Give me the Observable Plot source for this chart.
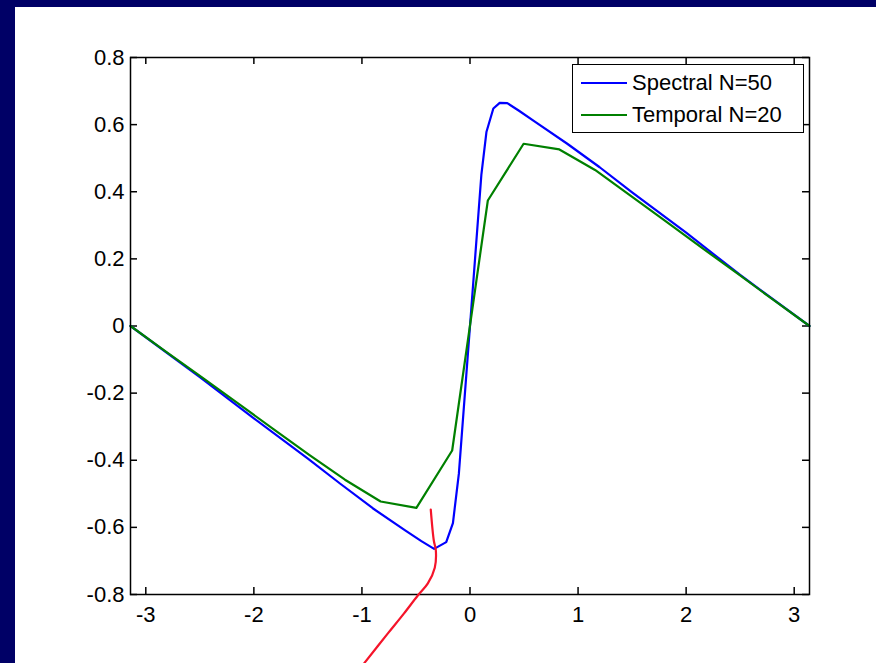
<!DOCTYPE html>
<html>
<head>
<meta charset="utf-8">
<script src="https://cdn.jsdelivr.net/npm/d3@7"></script>
<script src="https://cdn.jsdelivr.net/npm/@observablehq/plot@0.6"></script>
<style>
  html, body { margin: 0; padding: 0; background: #000066; width: 876px; height: 663px; overflow: hidden; }
  #panel { position: absolute; left: 15px; top: 7px; width: 861px; height: 656px; background: #ffffff; }
  #legend {
    position: absolute; left: 557px; top: 57px; width: 230px; height: 67px;
    border: 1.5px solid #000; background: #fff;
    font-family: "Liberation Sans", Arial, sans-serif; font-size: 22px; color: #000;
  }
  .row { position: absolute; left: 0; height: 30px; display: flex; align-items: center; }
  .row svg { margin-left: 8px; margin-right: 5px; }
</style>
</head>
<body>
<div id="panel"></div>
<script>
// Spectral solution, N = 50
const spectralX = [-3.1416, -2.5, -2.0, -1.5, -1.2, -0.9, -0.6, -0.45, -0.332, -0.22, -0.158, -0.103, 0,
                   0.105, 0.152, 0.216, 0.275, 0.345, 0.45, 0.6, 0.9, 1.2, 1.5, 2.0, 2.5, 3.1416];
const spectralY = [0, -0.152, -0.275, -0.395, -0.47, -0.543, -0.609, -0.641, -0.664, -0.644, -0.587, -0.44, 0,
                   0.45, 0.578, 0.648, 0.665, 0.664, 0.642, 0.609, 0.543, 0.473, 0.398, 0.278, 0.152, 0];

// Temporal solution, N = 20
const temporalX = [-3.1416, -2.811, -2.480, -2.150, -1.819, -1.488, -1.157, -0.827, -0.496, -0.165,
                   0.165, 0.496, 0.827, 1.157, 1.488, 1.819, 2.150, 2.480, 2.811, 3.1416];
const temporalY = [0, -0.077, -0.153, -0.230, -0.307, -0.384, -0.458, -0.523, -0.542, -0.371,
                   0.374, 0.543, 0.526, 0.465, 0.388, 0.310, 0.232, 0.155, 0.077, 0];

// Hand-drawn red annotation stroke
const annotX = [-0.363, -0.335, -0.316, -0.326, -0.390, -0.483, -0.612, -0.760, -0.982];
const annotY = [-0.547, -0.639, -0.669, -0.720, -0.767, -0.803, -0.857, -0.916, -1.006];

const xTicks = [-3, -2, -1, 0, 1, 2, 3];
const yTicks = [-0.8, -0.6, -0.4, -0.2, 0, 0.2, 0.4, 0.6, 0.8];

const seriesNames = ["Spectral N=50", "Temporal N=20"];
const seriesColors = ["#0000ff", "#008000"];

const spectral = spectralX.map((x, i) => ({x, y: spectralY[i]}));
const temporal = temporalX.map((x, i) => ({x, y: temporalY[i]}));
const annot = annotX.map((x, i) => ({x, y: annotY[i]}));

const W = 861, H = 656;
const mL = 115, mT = 50, mR = 67, mB = 69;
const innerW = W - mL - mR, innerH = H - mT - mB;
const tickLen = 7;

const chart = Plot.plot({
  width: W,
  height: H,
  marginLeft: mL, marginTop: mT, marginRight: mR, marginBottom: mB,
  style: { fontFamily: "Liberation Sans, Arial, sans-serif", fontSize: "22px", background: "#ffffff", color: "#000" },
  x: { domain: [-Math.PI, Math.PI] },
  y: { domain: [-0.8, 0.8] },
  marks: [
    // inward ticks on all four sides
    Plot.ruleX(xTicks, { insetTop: innerH - tickLen, stroke: "#000", strokeWidth: 1.5 }),
    Plot.ruleX(xTicks, { insetBottom: innerH - tickLen, stroke: "#000", strokeWidth: 1.5 }),
    Plot.ruleY(yTicks, { insetRight: innerW - tickLen, stroke: "#000", strokeWidth: 1.5 }),
    Plot.ruleY(yTicks, { insetLeft: innerW - tickLen, stroke: "#000", strokeWidth: 1.5 }),
    Plot.axisX({ ticks: xTicks, tickSize: 0, tickPadding: 12, tickFormat: d => String(d), label: null, fontSize: 22 }),
    Plot.axisY({ ticks: yTicks, tickSize: 0, tickPadding: 6, tickFormat: d => String(d), label: null, fontSize: 22 }),
    Plot.line(spectral, { x: "x", y: "y", stroke: seriesColors[0], strokeWidth: 2.2 }),
    Plot.line(temporal, { x: "x", y: "y", stroke: seriesColors[1], strokeWidth: 2.2 }),
    Plot.frame({ stroke: "#000", strokeWidth: 1.5 }),
    Plot.line(annot, { x: "x", y: "y", stroke: "#f5142a", strokeWidth: 2.2, curve: "catmull-rom" })
  ]
});

const panel = document.getElementById("panel");
panel.appendChild(chart);

// legend box in the upper-right corner of the axes
const legend = document.createElement("div");
legend.id = "legend";
seriesNames.forEach((name, i) => {
  const row = document.createElement("div");
  row.className = "row";
  row.style.top = (3 + i * 32) + "px";
  row.innerHTML = `<svg width="46" height="4"><line x1="0" x2="46" y1="2" y2="2" stroke="${seriesColors[i]}" stroke-width="2"/></svg><span>${name}</span>`;
  legend.appendChild(row);
});
panel.appendChild(legend);
</script>
</body>
</html>
